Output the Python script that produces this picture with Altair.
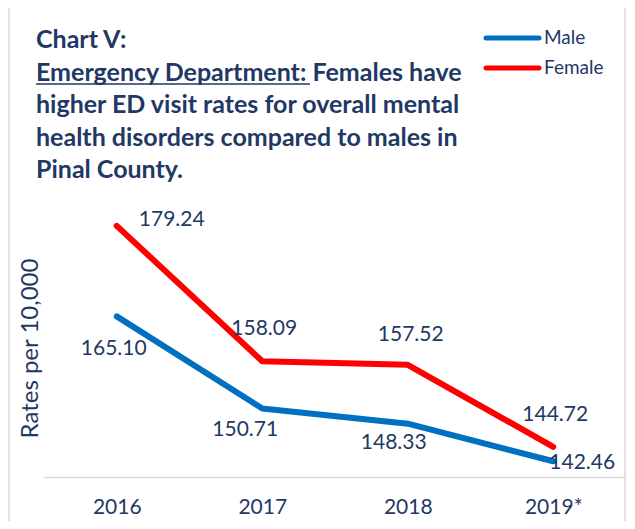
import altair as alt
import pandas as pd

years = ["2016", "2017", "2018", "2019*"]
male = [165.10, 150.71, 148.33, 142.46]
female = [179.24, 158.09, 157.52, 144.72]
series = ["Male", "Female"]
colors = ["#0070C0", "#FF0000"]

# label offsets (pixels) for the data labels, per series
male_dx = [-3, -17, -14, 29]
male_dy = [33, 22, 19, 2]
female_dx = [55, 2, 3, 2]
female_dy = [-6, -32, -30, -32]

title_lines = [
    "Chart V:",
    "Emergency Department: Females have",
    "higher ED visit rates for overall mental",
    "health disorders compared to males in",
    "Pinal County.",
]

NAVY = "#1F3864"
FONT = "Lato"

rows = []
for s, vals in (("Male", male), ("Female", female)):
    for i, y in enumerate(years):
        rows.append({"year": y, "value": vals[i], "series": s, "label": f"{vals[i]:.2f}"})
df = pd.DataFrame(rows)

x_enc = alt.X("year:N", sort=years, title=None,
              axis=alt.Axis(labelAngle=0, labelFontSize=21, labelColor=NAVY, labelFont=FONT,
                            ticks=False, domainColor="#D9D9D9", domainWidth=1.5,
                            labelPadding=19))
y_enc = alt.Y("value:Q", scale=alt.Scale(domain=[140, 180], nice=False, zero=False),
              axis=alt.Axis(title="Rates per 10,000", labels=False, ticks=False, domain=False,
                            grid=False, titleFontSize=24, titleFontWeight="normal",
                            titleColor=NAVY, titleFont=FONT, titleX=-14, titleY=127,
                            titleAngle=-90, titleAlign="center", titleBaseline="middle"))

color_enc = alt.Color("series:N", scale=alt.Scale(domain=series, range=colors), legend=None)

lines = alt.Chart(df).mark_line(strokeWidth=6, strokeCap="round", strokeJoin="round").encode(
    x=x_enc, y=y_enc, color=color_enc, detail="series:N"
)

label_layers = []
for s, dxs, dys in (("Male", male_dx, male_dy), ("Female", female_dx, female_dy)):
    for i, yr in enumerate(years):
        label_layers.append(
            alt.Chart(df).transform_filter(
                (alt.datum.series == s) & (alt.datum.year == yr)
            ).mark_text(fontSize=21, font=FONT, color=NAVY, baseline="middle",
                        dx=dxs[i], dy=dys[i]).encode(
                x=alt.X("year:N", sort=years), y=alt.Y("value:Q"), text="label:N"
            )
        )

title_df = pd.DataFrame({"t": ["\n".join(title_lines)]})
title = alt.Chart(title_df).mark_text(
    fontSize=25, font=FONT, fontWeight="bold", color=NAVY, align="left", baseline="middle",
    lineBreak="\n", lineHeight=32.5
).encode(x=alt.value(-8), y=alt.value(-181), text="t:N")

underline = alt.Chart(pd.DataFrame({"a": [0]})).mark_rule(color=NAVY, strokeWidth=1.5).encode(
    x=alt.value(-8), x2=alt.value(266), y=alt.value(-137)
)

# legend (manual, Excel-style line keys)
leg_df = pd.DataFrame({"series": series})
leg_y = {"Male": -183, "Female": -153}
legend_layers = []
for s in series:
    legend_layers.append(
        alt.Chart(leg_df).transform_filter(alt.datum.series == s).mark_rule(
            strokeWidth=5, strokeCap="round").encode(
            x=alt.value(442), x2=alt.value(495), y=alt.value(leg_y[s]),
            color=alt.Color("series:N", scale=alt.Scale(domain=series, range=colors), legend=None))
    )
    legend_layers.append(
        alt.Chart(leg_df).transform_filter(alt.datum.series == s).mark_text(
            fontSize=19, font=FONT, color=NAVY, align="left", baseline="middle").encode(
            x=alt.value(500), y=alt.value(leg_y[s]), text="series:N")
    )

border = alt.Chart(pd.DataFrame({"a": [0]})).mark_rect(
    fill=None, stroke="#D9D9D9", strokeWidth=1.5, cornerRadius=4
).encode(x=alt.value(-35), x2=alt.value(581), y=alt.value(-216), y2=alt.value(330))

chart = alt.layer(border, title, underline, *legend_layers, lines, *label_layers).properties(
    width=582, height=256,
    padding={"left": 36, "top": 213, "right": 0, "bottom": 44},
    autosize=alt.AutoSizeParams(type="none"),
    background="white",
).configure_view(stroke=None)

chart.save("out.html", embed_options={"renderer": "svg", "actions": False})
